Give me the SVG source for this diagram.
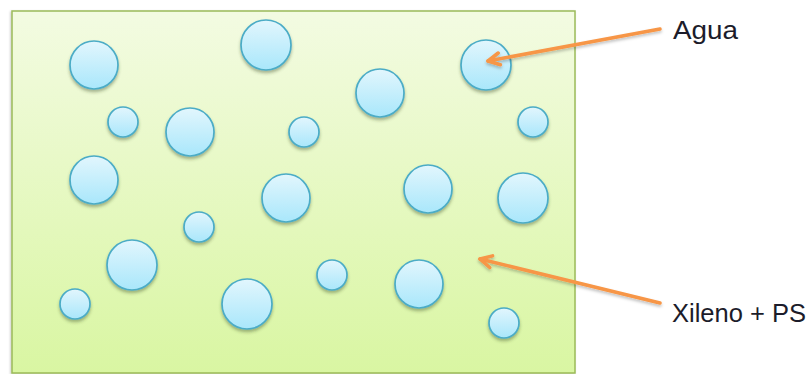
<svg xmlns="http://www.w3.org/2000/svg" width="810" height="374" viewBox="0 0 810 374">
<style>
.bub{fill:url(#gBub);stroke:#4bacc6;stroke-width:1.7;filter:url(#sh)}
.con{fill:none;stroke:#f79646;stroke-width:3.5;stroke-linecap:round;marker-end:url(#ah);filter:url(#ash)}
.lbl{font-family:"Liberation Sans",Arial,sans-serif;font-size:26px;fill:#1c1c2a}
</style>
<defs>
<linearGradient id="gRect" x1="0" y1="0" x2="0" y2="1">
<stop offset="0" stop-color="#f3fbe2"/>
<stop offset="1" stop-color="#d9f6a2"/>
</linearGradient>
<linearGradient id="gBub" x1="0" y1="0" x2="0" y2="1">
<stop offset="0" stop-color="#e2f6fd"/>
<stop offset="1" stop-color="#a9e7fb"/>
</linearGradient>
<filter id="sh" x="-30%" y="-30%" width="160%" height="170%">
<feDropShadow dx="0" dy="2.5" stdDeviation="1.5" flood-color="#3a4a20" flood-opacity="0.4"/>
</filter>
<filter id="rsh" x="-5%" y="-5%" width="110%" height="110%">
<feDropShadow dx="-1" dy="1" stdDeviation="1.2" flood-color="#000" flood-opacity="0.2"/>
</filter>
<filter id="ash" x="-10%" y="-50%" width="120%" height="200%">
<feDropShadow dx="0" dy="2" stdDeviation="1.5" flood-color="#000" flood-opacity="0.25"/>
</filter>
<marker id="ah" viewBox="0 0 16 16" refX="14" refY="8" markerWidth="16" markerHeight="16" markerUnits="userSpaceOnUse" orient="auto">
<path d="M2.5,2 L14,8 L2.5,14" fill="none" stroke="#f79646" stroke-width="3.5" stroke-linecap="round" stroke-linejoin="round"/>
</marker>
</defs>
<g id="mezcla">
<rect x="12" y="11" width="563" height="362" fill="url(#gRect)" stroke="#9bbb59" stroke-width="1.5" filter="url(#rsh)"/>
</g>
<g id="gotas">
<circle class="bub" cx="94" cy="65" r="24"/>
<circle class="bub" cx="266" cy="45" r="25"/>
<circle class="bub" cx="486" cy="65" r="25"/>
<circle class="bub" cx="380" cy="93" r="24"/>
<circle class="bub" cx="123" cy="122" r="15"/>
<circle class="bub" cx="190" cy="132" r="24"/>
<circle class="bub" cx="304" cy="132" r="15"/>
<circle class="bub" cx="533" cy="122" r="15"/>
<circle class="bub" cx="94" cy="180" r="24"/>
<circle class="bub" cx="286" cy="198" r="24"/>
<circle class="bub" cx="428" cy="189" r="24"/>
<circle class="bub" cx="523" cy="198" r="25"/>
<circle class="bub" cx="199" cy="227" r="15"/>
<circle class="bub" cx="132" cy="265" r="25"/>
<circle class="bub" cx="332" cy="275" r="15"/>
<circle class="bub" cx="419" cy="284" r="24"/>
<circle class="bub" cx="247" cy="304" r="25"/>
<circle class="bub" cx="75" cy="304" r="15"/>
<circle class="bub" cx="504" cy="323" r="15"/>
</g>
<g id="conectores">
<path class="con" d="M660,29 L488,61"/>
<path class="con" d="M660,303 L480,259"/>
</g>
<g id="lbl-agua"><text class="lbl" x="673" y="39" textLength="65" lengthAdjust="spacingAndGlyphs">Agua</text></g>
<g id="lbl-xileno"><text class="lbl" x="672" y="322" textLength="134" lengthAdjust="spacingAndGlyphs">Xileno + PS</text></g>
</svg>
